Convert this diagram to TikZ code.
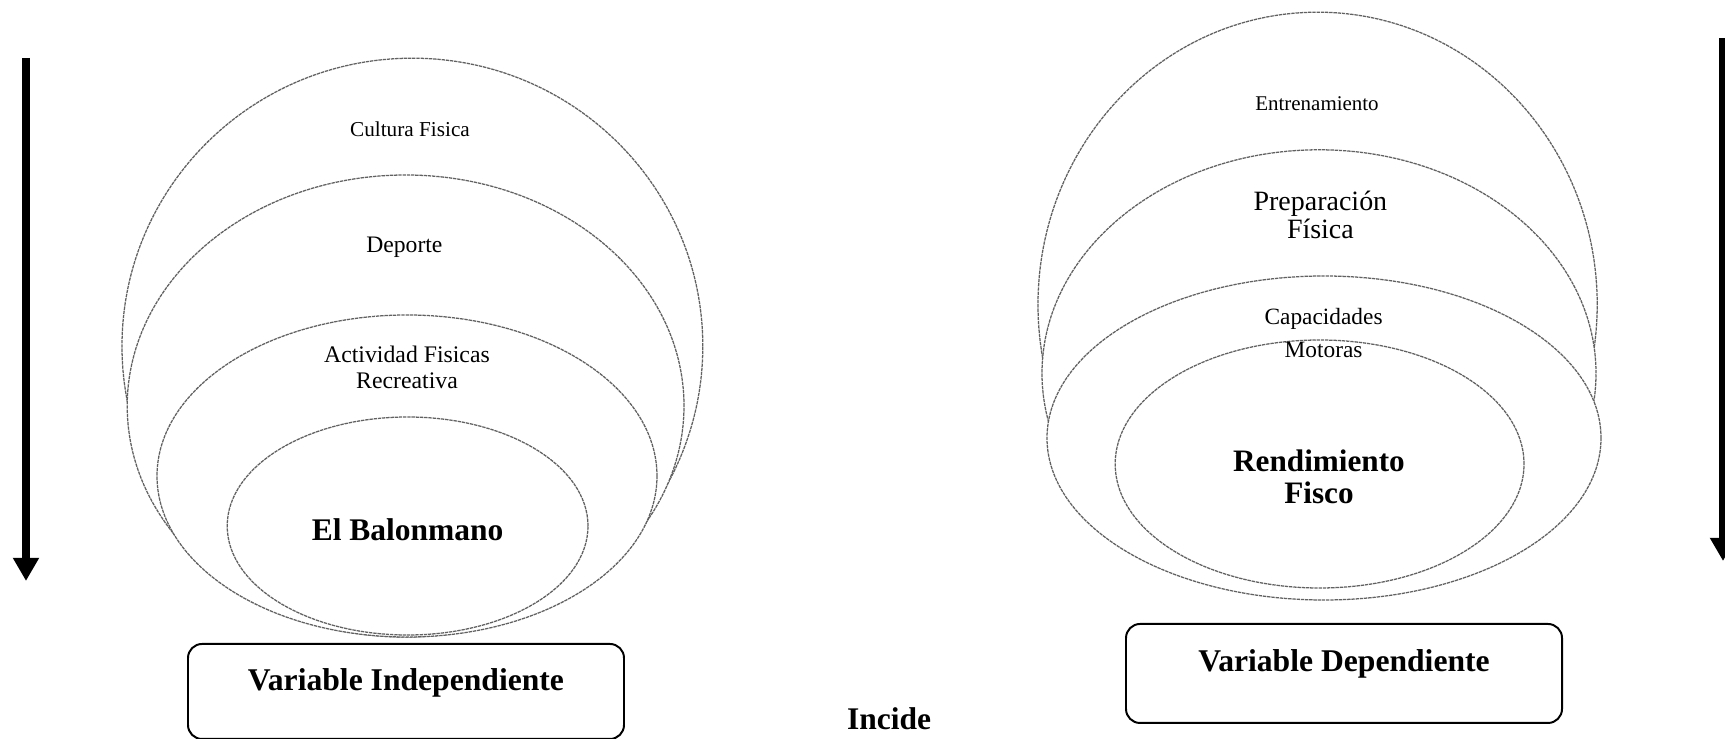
\documentclass[tikz,border=0pt]{standalone}
\usepackage{fontspec}
\setmainfont{Liberation Serif}
\usetikzlibrary{arrows.meta}

\tikzset{
  capa/.style={draw=black!62, fill=white, line width=0.9pt, dash pattern=on 2.4pt off 0.6pt},
  flecha/.style={line width=0.2cm, -{Triangle[width=0.62cm, length=0.58cm]}},
  varbox/.style={draw, line width=1.4pt, rounded corners=0.35cm, inner sep=0pt,
    minimum width=10.9cm, anchor=north, font=\bfseries\fontsize{22.5}{27}\selectfont},
}

\begin{document}
\begin{tikzpicture}
  \useasboundingbox (0,0) rectangle (43.125,18.475);

  % flechas
  \coordinate (fi1) at (0.65,17.025);
  \coordinate (fi2) at (0.65,3.95);
  \coordinate (fd1) at (43.075,17.525);
  \coordinate (fd2) at (43.075,4.45);
  \draw[flecha] (fi1) -- (fi2);
  \draw[flecha] (fd1) -- (fd2);

  % conjuntos, variable independiente
  \draw[capa] (10.31,9.82) ellipse (7.26 and 7.2);
  \draw[capa] (10.14,8.325) ellipse (6.96 and 5.775);
  \draw[capa] (10.175,6.575) ellipse (6.25 and 4.025);
  \draw[capa] (10.19,5.325) ellipse (4.51 and 2.725);

  \node[font=\fontsize{15.1}{18}\selectfont] (cultura) at (10.25,15.25) {Cultura Fisica};
  \node[font=\fontsize{16.8}{20}\selectfont] (deporte) at (10.11,12.3) {Deporte};
  \node[font=\fontsize{16.9}{18}\selectfont, align=center] (actividad) at (10.175,9.29)
    {Actividad Fisicas\\Recreativa};
  \node[font=\bfseries\fontsize{22.4}{26}\selectfont] (balonmano) at (10.19,5.225) {El Balonmano};

  % conjuntos, variable dependiente
  \draw[capa] (32.94,10.86) ellipse (6.99 and 7.31);
  \draw[capa] (32.975,9.14) ellipse (6.925 and 5.59);
  \draw[capa] (33.1,7.525) ellipse (6.925 and 4.05);
  \draw[capa] (32.99,6.875) ellipse (5.11 and 3.1);

  \node[font=\fontsize{14.9}{17}\selectfont] (entrenamiento) at (32.925,15.875) {Entrenamiento};
  \node[font=\fontsize{19.9}{20.3}\selectfont, align=center] (preparacion) at (33.01,13.1)
    {Preparación\\Física};
  \node[font=\fontsize{16.6}{23.9}\selectfont, align=center] (capacidades) at (33.09,10.15)
    {Capacidades\\Motoras};
  \node[font=\bfseries\fontsize{22.2}{22.5}\selectfont, align=center] (rendimiento) at (32.975,6.56)
    {Rendimiento\\Fisco};

  % cuadros
  \node[varbox, text height=1.16cm, text depth=1.215cm] (vind) at (10.15,2.4) {Variable Independiente};
  \node[varbox, text height=1.185cm, text depth=1.29cm] (vdep) at (33.6,2.9) {Variable Dependiente};

  \node[font=\bfseries\fontsize{22.4}{27}\selectfont] (incide) at (22.225,0.5) {Incide};
\end{tikzpicture}
\end{document}
